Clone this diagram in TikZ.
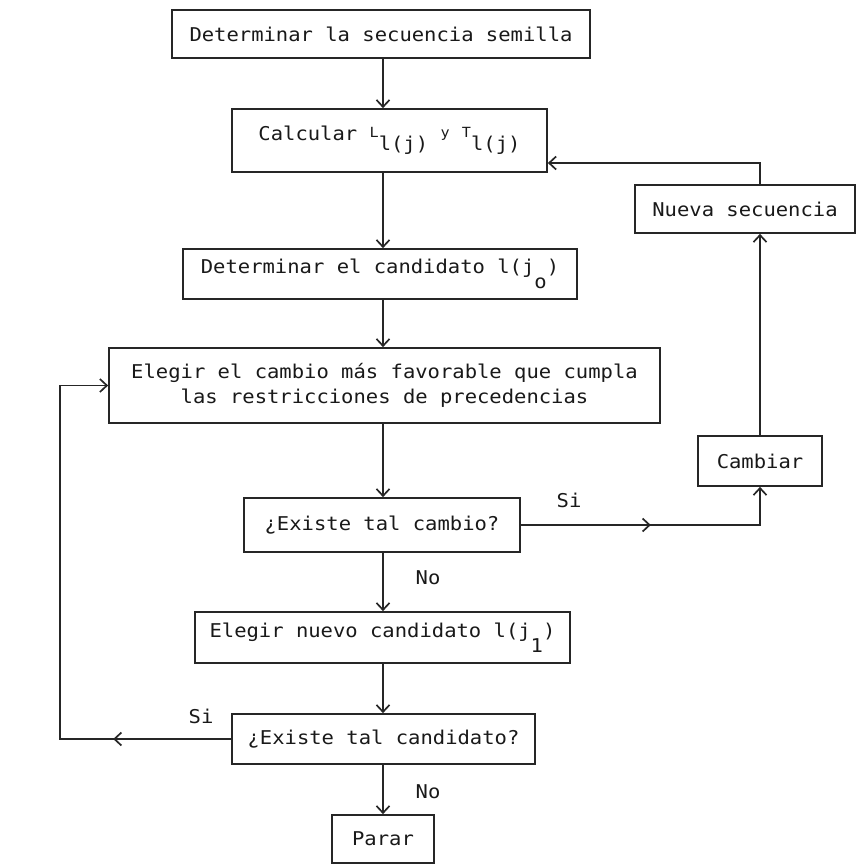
\documentclass[tikz,border=0pt]{standalone}
\usepackage{fontspec}
\setmonofont{DejaVu Sans Mono}[FakeStretch=1.08]
\usetikzlibrary{arrows.meta, decorations.markings}
\newcommand{\letra}{\fontsize{19}{25}\selectfont\ttfamily}
\newcommand{\chica}{\fontsize{14}{16}\selectfont}
\newcommand{\arriba}[1]{\raisebox{3pt}{\chica #1}}
\newcommand{\abajo}[1]{\raisebox{-10pt}{#1}}
\tikzset{
  caja/.style={draw=black!85, line width=1.7pt, text=black!90, inner sep=0pt, font=\letra, align=center},
  flecha/.style={draw=black!85, line width=1.7pt, -{Straight Barb[length=7pt, width=13pt]}},
  medio/.style={postaction={decorate}, decoration={markings, mark=at position #1 with {\arrow{Straight Barb[length=7pt, width=13pt]}}}},
  etiq/.style={text=black!90, font=\letra, inner sep=0pt}
}
\begin{document}
\begin{tikzpicture}[x=1pt, y=-1pt]
  \useasboundingbox (0,0) rectangle (856,865);
  \coordinate (eje) at (383,0);
  \coordinate (retorno) at (60,0);
  \node[caja, minimum width=418pt, minimum height=48pt] (semilla) at (381,34) {Determinar la secuencia semilla};
  \node[caja, minimum width=315pt, minimum height=63pt] (calcular) at (389.5,140.5) {Calcular \arriba{L}\abajo{l(j)} \arriba{y} \arriba{T}\abajo{l(j)}};
  \node[caja, minimum width=220pt, minimum height=48pt] (nueva) at (745,209) {Nueva secuencia};
  \node[caja, minimum width=394pt, minimum height=50pt] (candidato) at (380,274) {Determinar el candidato l(j\raisebox{-15pt}{o})};
  \node[caja, minimum width=551pt, minimum height=75pt] (cambio) at (384.5,385.5) {Elegir el cambio más favorable que cumpla\\las restricciones de precedencias};
  \node[caja, minimum width=124pt, minimum height=50pt] (cambiar) at (760,461) {Cambiar};
  \node[caja, minimum width=276pt, minimum height=54pt] (existe) at (382,525) {¿Existe tal cambio?};
  \node[caja, minimum width=375pt, minimum height=51pt] (nuevo) at (382.5,637.5) {Elegir nuevo candidato l(j\raisebox{-15pt}{1})};
  \node[caja, minimum width=303pt, minimum height=50pt] (existe2) at (383.5,739) {¿Existe tal candidato?};
  \node[caja, minimum width=102pt, minimum height=48pt] (parar) at (383,839) {Parar};
  \foreach \a/\b in {semilla/calcular, calcular/candidato, candidato/cambio, cambio/existe, existe/nuevo, nuevo/existe2, existe2/parar}
    \draw[flecha] (\a.south -| eje) -- (\b.north -| eje);
  \draw[flecha, medio=130pt] (existe.east) -| (cambiar.south);
  \draw[flecha] (cambiar.north) -- (nueva.south -| cambiar.north);
  \draw[flecha] (nueva.north -| cambiar.north) |- ([yshift=-22.5pt]calcular.east);
  \draw[flecha, medio=118pt] (existe2.west) -- (existe2.west -| retorno) |- (cambio.west);
  \node[etiq] (si1) at (569,500) {Si};
  \node[etiq] (si2) at (201,716) {Si};
  \node[etiq] (no1) at (428,578) {No};
  \node[etiq] (no2) at (428,792) {No};
\end{tikzpicture}
\end{document}
